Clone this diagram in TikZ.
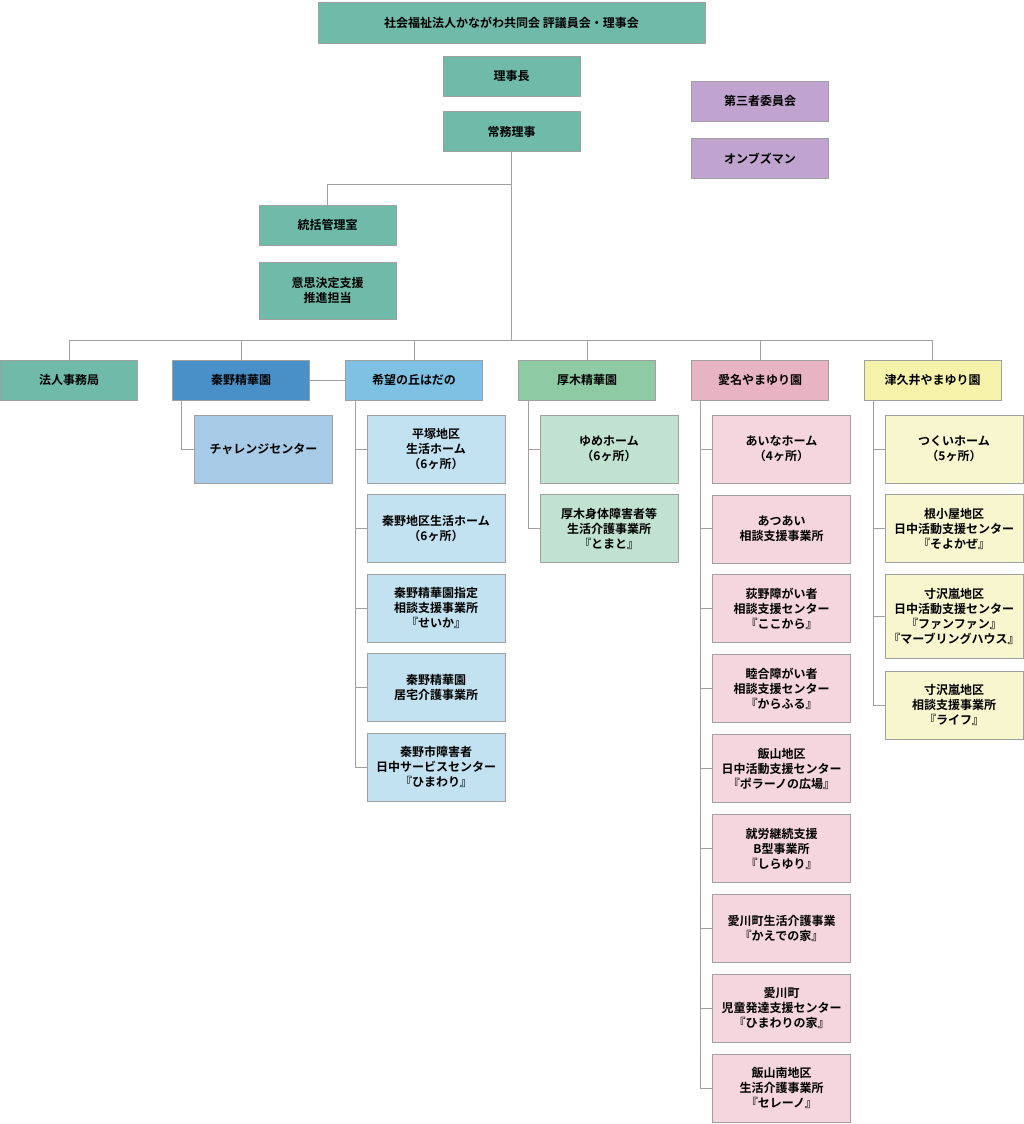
\documentclass[tikz,border=0pt]{standalone}
\usepackage{fontspec}
\setmainfont{Noto Sans CJK JP}[BoldFont={* Bold}]
\usetikzlibrary{positioning}
\definecolor{teal1}{HTML}{6FBAA9}
\definecolor{purp}{HTML}{C0A4CF}
\definecolor{blue1}{HTML}{4A90C8}
\definecolor{blue2}{HTML}{7FC1E3}
\definecolor{blue3}{HTML}{A7CBE7}
\definecolor{blue4}{HTML}{C3E2F1}
\definecolor{green1}{HTML}{8ECBA5}
\definecolor{green2}{HTML}{C1E2D0}
\definecolor{pink1}{HTML}{E8B3C3}
\definecolor{pink2}{HTML}{F5D6DF}
\definecolor{yel1}{HTML}{F5F2A9}
\definecolor{yel2}{HTML}{F8F6CF}
\definecolor{edge}{HTML}{A0A0A0}
\tikzset{
  box/.style={draw=edge, line width=0.8pt, inner sep=0pt, minimum width=137pt, minimum height=40pt, align=center, font=\fontsize{12}{15}\selectfont\bfseries},
  kid/.style={box, minimum width=138pt, minimum height=68pt},
  wire/.style={draw=edge, line width=1pt}
}
\begin{document}
\begin{tikzpicture}[x=1pt,y=-1pt]
\useasboundingbox (0,0) rectangle (1024,1124);
\node[box, fill=teal1, minimum width=387pt, minimum height=41pt](top) at (511.5,22.5) {社会福祉法人かながわ共同会 評議員会・理事会};
\node[box, fill=teal1](chair) at (511.5,76) {理事長};
\node[box, fill=teal1](exec) at (511.5,131.5) {常務理事};
\node[box, fill=purp](third) at (760,101) {第三者委員会};
\node[box, fill=purp](omb) at (760,158.5) {オンブズマン};
\node[box, fill=teal1](gen) at (327.5,225) {統括管理室};
\node[box, fill=teal1, minimum height=57pt](dec) at (327.5,290.5) {意思決定支援\\推進担当};
% second row
\node[box, fill=teal1](hq) at (69,380) {法人事務局};
\node[box, fill=blue1](hata) at (241,380) {秦野精華園};
\node[box, fill=blue2](kibo) at (414,380) {希望の丘はだの};
\node[box, fill=green1](atsu) at (587,380) {厚木精華園};
\node[box, fill=pink1](aina) at (760,380) {愛名やまゆり園};
\node[box, fill=yel1](tsuku) at (932.5,380) {津久井やまゆり園};
% trunk
\coordinate (split) at (511.5,184);
\coordinate (bus) at (511.5,340);
\draw[wire] (exec.south) -- (bus);
\draw[wire] (split) -| (gen.north);
\foreach \n in {hq,hata,kibo,atsu,aina,tsuku}
  \draw[wire] (bus) -| (\n.north);
\draw[wire] (hata.east) -- (kibo.west);
% children
\node[kid, fill=blue3](ch) at (263.5,449) {チャレンジセンター};
\draw[wire] ([xshift=-60pt]hata.south) |- (ch.west);
\foreach \t [count=\i] in {{平塚地区\\生活ホーム\\（6ヶ所）},{秦野地区生活ホーム\\（6ヶ所）},{秦野精華園指定\\相談支援事業所\\『せいか』},{秦野精華園\\居宅介護事業所},{秦野市障害者\\日中サービスセンター\\『ひまわり』}}{
  \node[kid, fill=blue4](k\i) at (436,449+79.5*\i-79.5) {\t};
  \draw[wire] ([xshift=-59pt]kibo.south) |- (k\i.west);
}
\foreach \t [count=\i] in {{ゆめホーム\\（6ヶ所）},{厚木身体障害者等\\生活介護事業所\\『とまと』}}{
  \node[kid, fill=green2](a\i) at (609,449+79.5*\i-79.5) {\t};
  \draw[wire] ([xshift=-59pt]atsu.south) |- (a\i.west);
}
\foreach \t [count=\i] in {{あいなホーム\\（4ヶ所）},{あつあい\\相談支援事業所},{荻野障がい者\\相談支援センター\\『ここから』},{睦合障がい者\\相談支援センター\\『からふる』},{飯山地区\\日中活動支援センター\\『ポラーノの広場』},{就労継続支援\\B型事業所\\『しらゆり』},{愛川町生活介護事業\\『かえでの家』},{愛川町\\児童発達支援センター\\『ひまわりの家』},{飯山南地区\\生活介護事業所\\『セレーノ』}}{
  \node[kid, fill=pink2](n\i) at (781.5,449+79.9*\i-79.9) {\t};
  \draw[wire] ([xshift=-60pt]aina.south) |- (n\i.west);
}
\node[kid, fill=yel2](y1) at (954,449) {つくいホーム\\（5ヶ所）};
\node[kid, fill=yel2](y2) at (954,528.5) {根小屋地区\\日中活動支援センター\\『そよかぜ』};
\node[kid, fill=yel2, minimum height=84pt](y3) at (954,616) {寸沢嵐地区\\日中活動支援センター\\『ファンファン』\\『マーブリングハウス』};
\node[kid, fill=yel2](y4) at (954,705) {寸沢嵐地区\\相談支援事業所\\『ライフ』};
\foreach \i in {1,...,4}
  \draw[wire] ([xshift=-59.5pt]tsuku.south) |- (y\i.west);
\end{tikzpicture}
\end{document}
